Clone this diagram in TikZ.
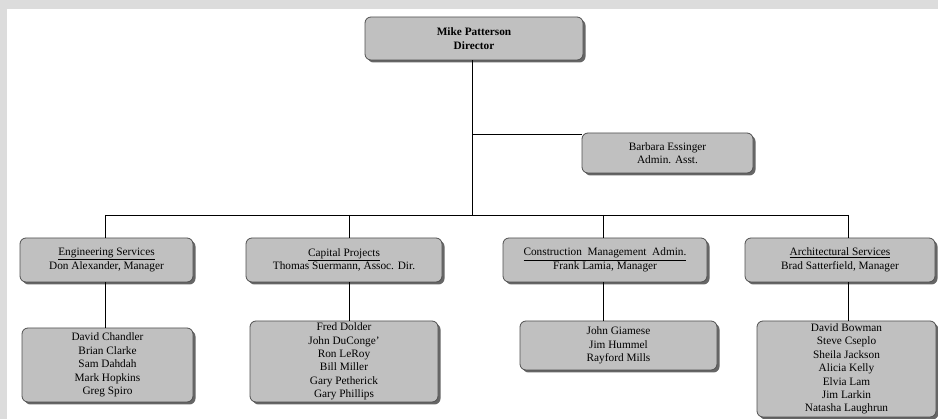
\documentclass[tikz,border=0pt]{standalone}
\usepackage{fontspec}
\setmainfont{Liberation Serif}
\usetikzlibrary{shadows}
\definecolor{boxgray}{HTML}{C0C0C0}
\definecolor{bandgray}{HTML}{DCDCDC}
\definecolor{edgegray}{HTML}{505050}
\begin{document}
\begin{tikzpicture}[x=1pt,y=-1pt,
  box/.style={draw=edgegray, line width=0.8pt, fill=boxgray, rounded corners=6pt,
    drop shadow={shadow xshift=2.5pt, shadow yshift=-2.5pt, fill=black!60, opacity=1},
    align=center, font=\fontsize{11.3}{13.4}\selectfont, inner sep=0pt},
  link/.style={draw=black, line width=0.9pt}]
\useasboundingbox (0,0) rectangle (938,419);
\fill[white] (0,0) rectangle (938,419);
\fill[bandgray] (0,0) rectangle (938,9);
\fill[bandgray] (0,0) rectangle (7,419);

% nodes
\node[box, minimum width=218, minimum height=43] (dir) at (474,38.5) {\bfseries Mike Patterson\\\bfseries Director};
\node[box, minimum width=171, minimum height=40] (barb) at (667.5,153) {Barbara Essinger\\Admin. Asst.};

\node[box, minimum width=173, minimum height=44] (eng) at (106.5,260) {\underline{Engineering Services}\\Don Alexander, Manager};
\node[box, minimum width=196, minimum height=44] (cap) at (344,260) {\underline{Capital Projects}\\Thomas Suermann, Assoc. Dir.};
\node[box, minimum width=204, minimum height=44] (con) at (605,260) {\underline{Construction\ \ Management\ \ Admin.}\\Frank Lamia, Manager};
\node[box, minimum width=190, minimum height=44] (arch) at (840,260) {\underline{Architectural Services}\\Brad Satterfield, Manager};

\node[box, minimum width=171, minimum height=74] (es) at (107.5,365) {David Chandler\\Brian Clarke\\Sam Dahdah\\Mark Hopkins\\Greg Spiro};
\node[box, minimum width=188, minimum height=81] (cs) at (344,361.5) {Fred Dolder\\John DuConge'\\Ron LeRoy\\Bill Miller\\Gary Petherick\\Gary Phillips};
\node[box, minimum width=197, minimum height=49] (ks) at (618.5,345.5) {John Giamese\\Jim Hummel\\Rayford Mills};
\node[box, minimum width=179, minimum height=96] (as) at (846.5,369) {David Bowman\\Steve Cseplo\\Sheila Jackson\\Alicia Kelly\\Elvia Lam\\Jim Larkin\\Natasha Laughrun};

% bus coordinates
\coordinate (d) at (472,215);
\coordinate (jb) at (472,134);
\coordinate (b1) at (105,215);
\coordinate (b2) at (349,215);
\coordinate (b3) at (603,215);
\coordinate (b4) at (848,215);

% connectors
\draw[link] (dir.south -| d) -- (d);
\draw[link] (jb) -- (jb -| barb.west);
\draw[link] (b1) -- (b4);
\draw[link] (b1) -- (b1 |- eng.north);
\draw[link] (b2) -- (b2 |- cap.north);
\draw[link] (b3) -- (b3 |- con.north);
\draw[link] (b4) -- (b4 |- arch.north);
\draw[link] (eng.south -| b1) -- (b1 |- es.north);
\draw[link] (cap.south -| b2) -- (b2 |- cs.north);
\draw[link] (con.south -| b3) -- (b3 |- ks.north);
\draw[link] (arch.south -| b4) -- (b4 |- as.north);
\end{tikzpicture}
\end{document}
